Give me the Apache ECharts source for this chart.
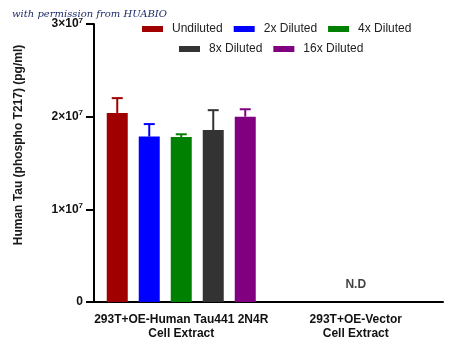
<!DOCTYPE html>
<html>
<head>
<meta charset="utf-8">
<script src="https://cdn.jsdelivr.net/npm/echarts@6/dist/echarts.min.js"></script>
<style>
  html, body { margin: 0; padding: 0; background: #fff; }
  #chart { width: 450px; height: 353px; }
</style>
</head>
<body>
<div id="chart"></div>
<script>
// categories on the x axis
const categories = ['293T+OE-Human Tau441 2N4R\nCell Extract', '293T+OE-Vector\nCell Extract'];
// dilution series
const seriesNames = ['Undiluted', '2x Diluted', '4x Diluted', '8x Diluted', '16x Diluted'];
const colors = ['#a00000', '#0000ff', '#008000', '#333333', '#800080'];
// mean values (pg/ml), only the first category has data; second is N.D
const means = [2.04e7, 1.785e7, 1.78e7, 1.856e7, 2.0e7];
// upper error (SD)
const errs = [0.16e7, 0.135e7, 0.03e7, 0.214e7, 0.08e7];
const yTicks = [0, 1e7, 2e7, 3e7];

const font = 'Liberation Sans, Arial, sans-serif';
const barWidth = 21;
const barGapPx = 11;

let series = [];
seriesNames.forEach((name, i) => {
    series.push({
        name: name,
        type: 'bar',
        data: [means[i], null],
        barWidth: barWidth,
        barGap: (barGapPx / barWidth * 100) + '%',
        itemStyle: { color: colors[i] }
    });
});

// error bars drawn on top of each bar
series.push({
    type: 'custom',
    name: 'err',
    data: means.map((m, i) => [0, m, m + errs[i], i]),
    z: 3,
    renderItem: function (params, api) {
        const i = api.value(3);
        const off = (i - 2) * (barWidth + barGapPx);
        const base = api.coord([api.value(0), api.value(1)]);
        const top = api.coord([api.value(0), api.value(2)]);
        const x = base[0] + off;
        const c = colors[i];
        return {
            type: 'group',
            children: [
                { type: 'line', shape: { x1: x, y1: base[1], x2: x, y2: top[1] }, style: { stroke: c, lineWidth: 2 } },
                { type: 'line', shape: { x1: x - 5.5, y1: top[1], x2: x + 5.5, y2: top[1] }, style: { stroke: c, lineWidth: 2 } }
            ]
        };
    }
});

// N.D label for the vector control
series.push({
    type: 'scatter',
    name: 'nd',
    data: [[1, 0]],
    symbolSize: 2,
    itemStyle: { color: 'rgba(0,0,0,0)' },
    label: {
        show: true,
        position: 'top',
        distance: 10,
        formatter: 'N.D',
        fontFamily: font,
        fontWeight: 'bold',
        fontSize: 12,
        color: '#111'
    }
});

const legendText = { fontFamily: font, fontSize: 12, color: '#222', padding: [0, 0, 0, 4] };

const option = {
    animation: false,
    graphic: [{
        type: 'text',
        left: 12,
        top: 9,
        style: {
            text: 'with permission from HUABIO',
            font: 'italic 10px "DejaVu Serif", serif',
            fill: '#1c2a6b'
        }
    }, {
        type: 'text',
        x: 19,
        y: 145,
        rotation: Math.PI / 2,
        style: {
            text: 'Human Tau (phospho T217) (pg/ml)',
            font: 'bold 12px ' + font,
            fill: '#1a1a1a',
            align: 'center',
            verticalAlign: 'middle'
        }
    }],
    legend: [{
        data: seriesNames.slice(0, 3),
        left: 142,
        top: 23,
        padding: 0,
        icon: 'rect',
        itemWidth: 21,
        itemHeight: 6,
        itemGap: 11,
        textStyle: legendText
    }, {
        data: seriesNames.slice(3),
        left: 179,
        top: 43,
        padding: 0,
        icon: 'rect',
        itemWidth: 21,
        itemHeight: 6,
        itemGap: 11,
        textStyle: legendText
    }],
    grid: { left: 94, right: 7, top: 24, bottom: 51 },
    xAxis: {
        type: 'category',
        data: categories,
        axisLine: { lineStyle: { color: '#000', width: 2 } },
        axisTick: { alignWithLabel: true, length: 3, lineStyle: { color: '#000', width: 2 } },
        axisLabel: {
            interval: 0,
            fontFamily: font,
            fontWeight: 'bold',
            fontSize: 12,
            color: '#111',
            lineHeight: 14,
            margin: 11
        }
    },
    yAxis: {
        type: 'value',
        min: 0,
        max: 3e7,
        interval: 1e7,
        axisLine: { show: true, lineStyle: { color: '#000', width: 2 } },
        axisTick: { show: true, length: 8, lineStyle: { color: '#000', width: 2 } },
        splitLine: { show: false },
        axisLabel: {
            margin: 11,
            formatter: function (v) {
                if (v === yTicks[0]) return '{b|0}';
                return '{b|' + (v / 1e7) + '×10}{s|7}';
            },
            rich: {
                b: { fontFamily: font, fontWeight: 'bold', fontSize: 12, color: '#111' },
                s: { fontFamily: font, fontWeight: 'bold', fontSize: 8, color: '#111', padding: [0, 0, 7, 0] }
            }
        }
    },
    series: series
};

const chart = echarts.init(document.getElementById('chart'));
chart.setOption(option);
</script>
</body>
</html>
